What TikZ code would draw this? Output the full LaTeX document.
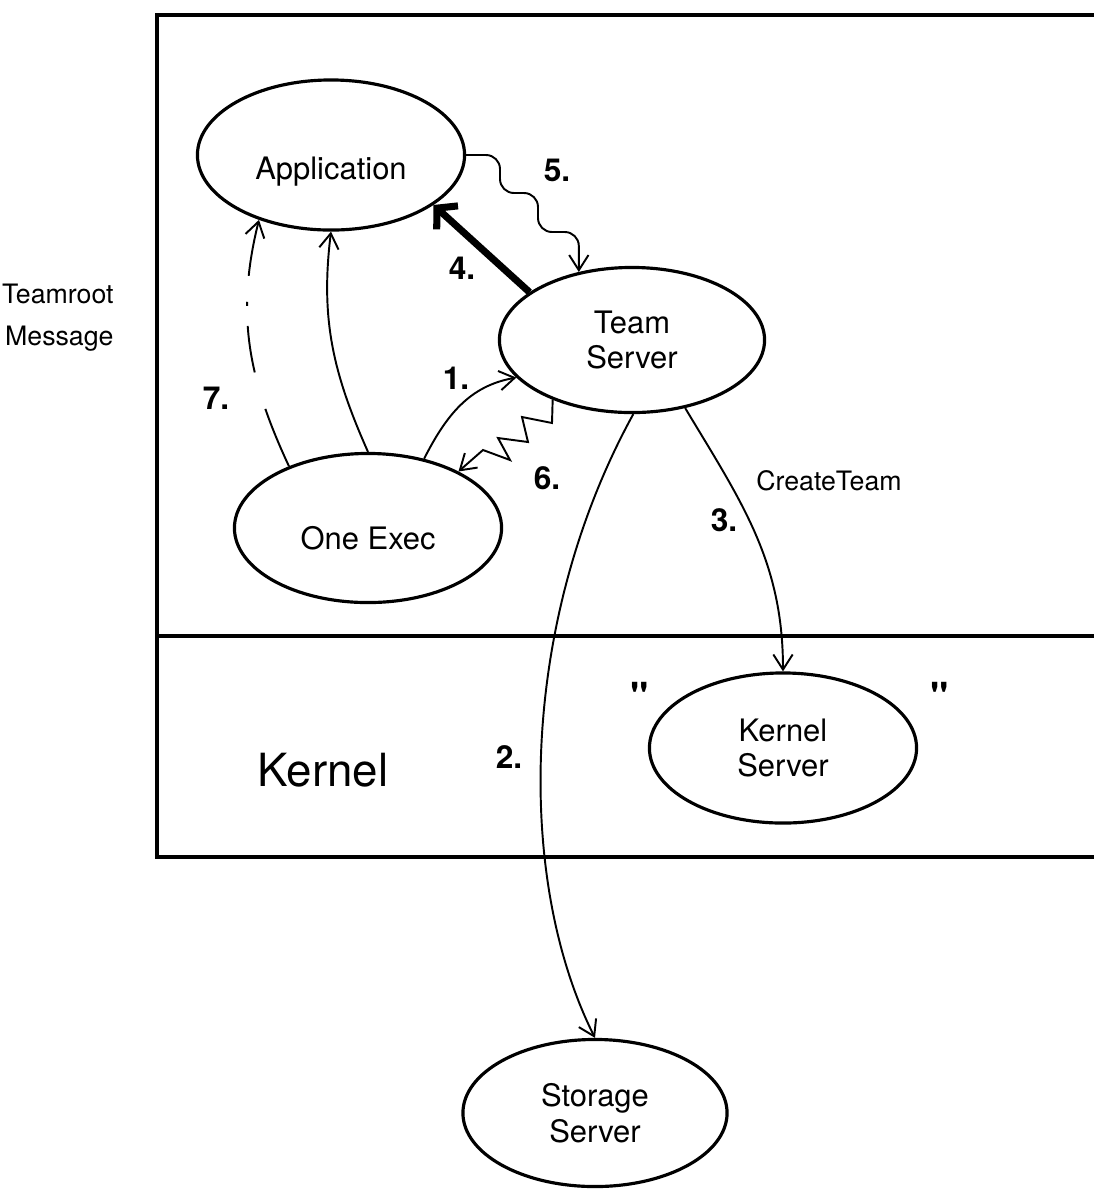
\documentclass[tikz,border=0pt]{standalone}
\usepackage{fontspec}
\setmainfont{TeX Gyre Heros}
\usetikzlibrary{shapes.geometric,arrows.meta}
\tikzset{
	proc/.style={ellipse, draw, line width=0.9pt, inner sep=0pt, align=center, font=\fontsize{8.8}{10.2}\selectfont},
	conn/.style={line width=0.55pt, -{Straight Barb[length=4.3pt,width=5.5pt]}},
	num/.style={font=\bfseries\fontsize{9}{10}\selectfont},
	frame/.style={line width=1.1pt}
}

\begin{document}
\begin{tikzpicture}[x=0.01cm, y=0.01cm]
			%%%%% START %%%%%
			\useasboundingbox (0,0) rectangle (1094,-1190);
			
			\draw[frame] (1094,-15) -- (157,-15) -- (157,-857) -- (1094,-857);
			\draw[frame] (157,-636) -- (1094,-636);
			
			\node[proc, minimum width=2.67cm, minimum height=1.5cm, text height=16pt] (app) at (331,-155) {Application};
			\node[proc, minimum width=2.65cm, minimum height=1.45cm] (team) at (632,-340) {Team\\Server};
			\node[proc, minimum width=2.67cm, minimum height=1.49cm, text height=12.5pt] (one) at (368,-528) {One Exec};
			\node[proc, minimum width=2.67cm, minimum height=1.5cm] (kern) at (783,-748) {Kernel\\Server};
			\node[proc, minimum width=2.64cm, minimum height=1.47cm] (stor) at (595,-1113) {Storage\\Server};
			
			\node[font=\fontsize{7.6}{12}\selectfont, align=right, anchor=east] (tmsg) at (126,-318) {Teamroot\\Message};
			\node[font=\fontsize{13}{15}\selectfont] (kernlbl) at (323,-770) {Kernel};
			\node[font=\fontsize{7.6}{9}\selectfont] (ctlbl) at (829,-481) {CreateTeam};
			\node[num, font=\bfseries\fontsize{11}{12}\selectfont] (qleft) at (640,-696) {\textquotedbl};
			\node[num, font=\bfseries\fontsize{11}{12}\selectfont] (qright) at (940,-696) {\textquotedbl};
			
			\node[num] (n1) at (456,-378) {1.};
			\node[num] (n2) at (509,-757) {2.};
			\node[num] (n3) at (724,-520) {3.};
			\node[num] (n4) at (462,-268) {4.};
			\node[num] (n5) at (557,-170) {5.};
			\node[num] (n6) at (547,-478) {6.};
			\node[num] (n7) at (216,-398) {7.};
			
			\draw[conn] (one.51) to[out=63,in=190] (team.198.6);
			\draw[conn] (team.271) .. controls (520,-620) and (515,-878) .. (stor.north);
			\draw[conn] (team.308) to[out=-59,in=90] (kern.north);
			\draw[line width=2pt, -{Straight Barb[length=4pt,width=9pt]}] (team.155) -- (app.-26);
			\draw[conn, rounded corners=1.4mm] (app.east) -| (500,-193) -| (538,-232) -| (team.128);
			\draw[conn] (team.217) -- (552,-423) -- (522,-417) -- (528,-442) -- (498,-438) -- (510,-460) -- (483,-450) -- (one.32);
			\draw[conn, dash pattern=on 0.62cm off 0.38cm on 0.47cm off 0.2cm on 1.2pt off 0.26cm on 1cm] (one.142) to[out=115,in=-104] (app.222);
			\draw[conn] (one.north) to[out=114,in=-97] (app.south);
			
			%%%%% END %%%%%
\end{tikzpicture}
\end{document}
